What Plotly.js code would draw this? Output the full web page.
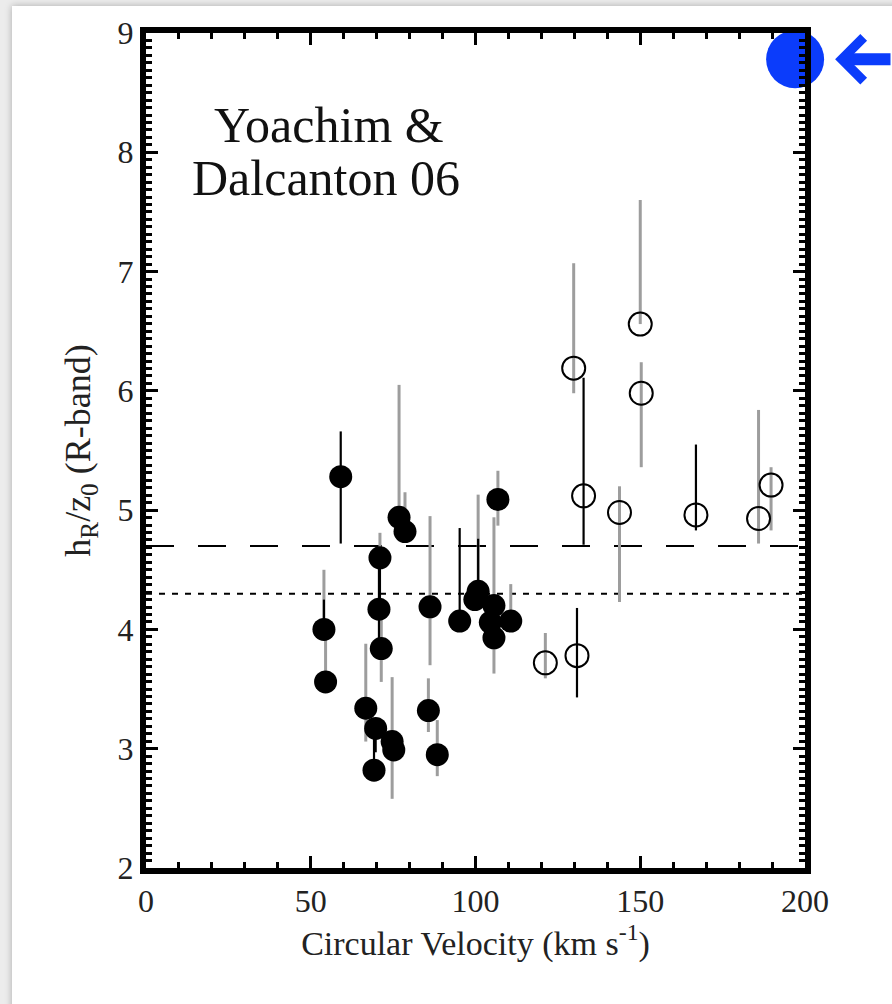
<!DOCTYPE html>
<html>
<head>
<meta charset="utf-8">
<script src="https://cdn.plot.ly/plotly-3.0.1.min.js"></script>
<style>
  html, body { margin: 0; padding: 0; background: #ececec; overflow: hidden; }
  #card {
    position: absolute; left: 12px; top: 6px; width: 900px; height: 1010px;
    background: #ffffff; box-shadow: 0 0 7px rgba(0,0,0,0.28);
  }
  #chart { position: absolute; left: 0; top: 0; width: 892px; height: 1004px; }
</style>
</head>
<body>
<div id="card"></div>
<div id="chart"></div>
<script>
// Disk scale length over scale height vs. circular velocity (R band)

// Filled symbols
const filledVc     = [59.1, 76.8, 78.6, 71.0, 70.7, 71.4, 54.0, 54.5, 66.7, 69.7, 69.2, 74.7, 75.2, 86.2, 85.7, 88.4, 95.2, 100.8, 99.8, 106.8, 105.6, 104.5, 105.6, 110.7];
const filledRatio  = [5.28, 4.94, 4.82, 4.60, 4.17, 3.84, 4.00, 3.56, 3.34, 3.17, 2.82, 3.06, 2.99, 4.19, 3.32, 2.95, 4.07, 4.32, 4.25, 5.09, 4.20, 4.06, 3.93, 4.07];
const filledBlackUp   = [0.38, 0, 0, 0, 0.43, 0, 0.25, 0, 0, 0, 0.30, 0, 0, 0, 0, 0, 0.78, 0.44, 0, 0, 0, 0, 0, 0];
const filledBlackDown = [0.56, 0, 0, 0.43, 0.30, 0, 0, 0, 0, 0.20, 0, 0, 0, 0, 0, 0, 0, 0, 0, 0, 0, 0, 0, 0];
const filledGrayUp    = [0, 1.11, 0.33, 0.21, 0, 0.33, 0.50, 0.44, 0.54, 0, 0, 0.54, 0, 0.76, 0.27, 0.29, 0, 0.81, 0, 0.24, 0.74, 0, 0, 0.31];
const filledGrayDown  = [0, 0, 0, 0, 0, 0.28, 0, 0, 0.28, 0, 0, 0.48, 0, 0.49, 0.18, 0.18, 0, 0, 0, 0.22, 0, 0, 0.30, 0];

// Open symbols
const openVc       = [129.8, 150.0, 150.3, 132.8, 143.7, 166.9, 185.9, 189.7, 121.2, 130.8];
const openRatio    = [6.19, 6.56, 5.98, 5.12, 4.98, 4.96, 4.93, 5.21, 3.72, 3.78];
const openBlackUp   = [0, 0, 0, 0.99, 0, 0.59, 0, 0, 0, 0.40];
const openBlackDown = [0, 0, 0, 0.41, 0, 0.13, 0, 0, 0, 0.35];
const openGrayUp    = [0.88, 1.04, 0.26, 0, 0.22, 0, 0.91, 0.15, 0.25, 0];
const openGrayDown  = [0.21, 0, 0.62, 0, 0.75, 0, 0.21, 0.38, 0.13, 0];

// Reference levels
const levelVc      = [0, 200];
const dashedLevel  = [4.7, 4.7];
const dottedLevel  = [4.3, 4.3];

// Highlighted point
const highlightVc    = [197];
const highlightRatio = [8.78];

const xTicks = [0, 50, 100, 150, 200];
const yTicks = [2, 3, 4, 5, 6, 7, 8, 9];

const GRAY = '#9d9d9d';
const BLUE = '#0b3cfb';
const SERIF = '"Liberation Serif", "Times New Roman", serif';

function errTrace(x, y, up, down, color, thick) {
  return {
    x: x, y: y, type: 'scatter', mode: 'markers', hoverinfo: 'skip',
    marker: { size: 2, color: 'rgba(0,0,0,0)' },
    error_y: { type: 'data', symmetric: false, array: up, arrayminus: down,
               color: color, thickness: thick, width: 0 },
    showlegend: false
  };
}

const traces = [
  { x: levelVc, y: dashedLevel, type: 'scatter', mode: 'lines',
    line: { color: '#000', width: 2, dash: '28px,24px' }, hoverinfo: 'skip', showlegend: false },
  { x: levelVc, y: dottedLevel, type: 'scatter', mode: 'lines',
    line: { color: '#000', width: 2, dash: '6px,7px' }, hoverinfo: 'skip', showlegend: false },
  errTrace(filledVc, filledRatio, filledGrayUp, filledGrayDown, GRAY, 3),
  errTrace(openVc, openRatio, openGrayUp, openGrayDown, GRAY, 3),
  errTrace(filledVc, filledRatio, filledBlackUp, filledBlackDown, '#000', 2.2),
  errTrace(openVc, openRatio, openBlackUp, openBlackDown, '#000', 2.2),
  { x: openVc, y: openRatio, type: 'scatter', mode: 'markers',
    marker: { symbol: 'circle-open', size: 23, color: '#000', line: { width: 2, color: '#000' } },
    showlegend: false },
  { x: filledVc, y: filledRatio, type: 'scatter', mode: 'markers',
    marker: { symbol: 'circle', size: 23, color: '#000' }, showlegend: false },
  { x: highlightVc, y: highlightRatio, type: 'scatter', mode: 'markers', cliponaxis: false,
    marker: { symbol: 'circle', size: 58, color: BLUE }, showlegend: false }
];

const axisCommon = {
  showline: true, linecolor: '#000', linewidth: 6, mirror: 'ticks',
  ticks: 'inside', tickcolor: '#000', tickwidth: 3, ticklen: 12,
  showgrid: false, zeroline: false, fixedrange: true,
  tickfont: { family: SERIF, size: 32, color: '#222' }
};

const layout = {
  width: 892, height: 1004,
  margin: { l: 146, r: 87, t: 33, b: 136 },
  paper_bgcolor: 'rgba(0,0,0,0)', plot_bgcolor: 'rgba(0,0,0,0)',
  showlegend: false,
  xaxis: Object.assign({}, axisCommon, {
    range: [0, 200], tickmode: 'array', tickvals: xTicks,
    minor: { dtick: 10, ticks: 'inside', ticklen: 6, tickwidth: 3, tickcolor: '#000', showgrid: false },
    title: { text: 'Circular Velocity (km s<sup>-1</sup>)', standoff: 6,
             font: { family: SERIF, size: 34, color: '#222' } }
  }),
  yaxis: Object.assign({}, axisCommon, {
    range: [2, 9], tickmode: 'array', tickvals: yTicks,
    minor: { dtick: 0.0625, ticks: 'inside', ticklen: 6, tickwidth: 3, tickcolor: '#000', showgrid: false },
    title: { text: 'h<sub>R</sub>/z<sub>0</sub> (R-band)', standoff: 18,
             font: { family: SERIF, size: 36, color: '#222' } }
  }),
  annotations: [
    { xref: 'x', yref: 'y', x: 55.5, y: 7.98, text: 'Yoachim &', showarrow: false,
      xanchor: 'center', yanchor: 'bottom', font: { family: SERIF, size: 50, color: '#111' } },
    { xref: 'x', yref: 'y', x: 54.5, y: 7.53, text: 'Dalcanton 06', showarrow: false,
      xanchor: 'center', yanchor: 'bottom', font: { family: SERIF, size: 50, color: '#111' } },
    { xref: 'x', yref: 'y', x: highlightVc[0], y: highlightRatio[0], text: '',
      showarrow: true, axref: 'pixel', ayref: 'pixel', ax: 150, ay: 0,
      arrowhead: 4, arrowsize: 0.7, arrowwidth: 12, arrowcolor: BLUE, standoff: 40 }
  ]
};

Plotly.newPlot('chart', traces, layout, { displayModeBar: false, staticPlot: true });
</script>
</body>
</html>
